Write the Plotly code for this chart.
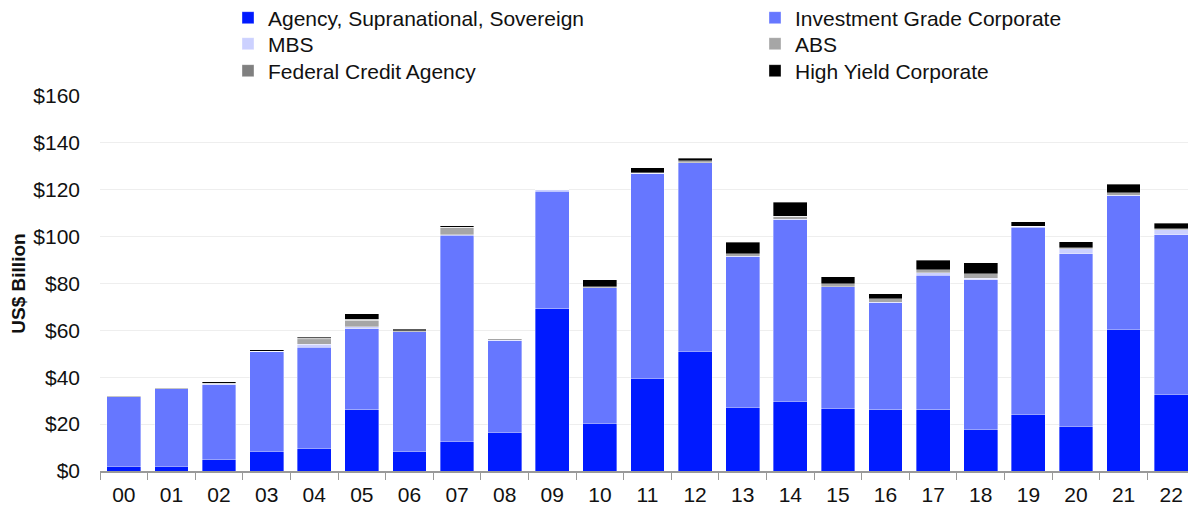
import plotly.graph_objects as go

# Données (US$ milliards)
years = ["00", "01", "02", "03", "04", "05", "06", "07", "08", "09", "10", "11",
         "12", "13", "14", "15", "16", "17", "18", "19", "20", "21", "22"]

agency = [2.1, 2.1, 5.0, 8.5, 9.8, 26.1, 8.5, 12.8, 16.6, 69.2, 20.4, 39.5,
          51.0, 27.3, 29.8, 26.8, 26.1, 26.1, 17.9, 24.3, 19.2, 60.5, 32.8]
ig_corp = [29.6, 33.0, 31.8, 42.5, 43.0, 34.7, 50.9, 87.7, 39.2, 50.2, 57.7, 87.3,
           80.6, 64.3, 77.7, 51.9, 46.0, 57.4, 63.7, 79.8, 73.6, 57.1, 68.1]
mbs = [0.0, 0.0, 0.4, 0.2, 1.2, 0.8, 0.0, 0.3, 0.0, 0.6, 0.0, 0.2,
       0.0, 0.0, 0.0, 0.0, 0.0, 1.1, 0.6, 0.3, 2.1, 0.0, 2.0]
abs_ = [0.5, 0.5, 0.0, 0.0, 2.0, 2.7, 0.5, 3.1, 0.6, 0.0, 0.6, 0.2,
        0.7, 1.2, 1.3, 1.2, 1.5, 1.3, 1.9, 0.0, 0.4, 1.2, 0.5]
fed_credit = [0.0, 0.0, 0.3, 0.0, 0.6, 0.4, 0.0, 0.0, 0.0, 0.0, 0.0, 0.0,
              0.0, 0.0, 0.0, 0.0, 0.0, 0.0, 0.0, 0.0, 0.0, 0.0, 0.0]
high_yield = [0.0, 0.0, 0.5, 0.6, 0.5, 2.5, 0.6, 0.7, 0.0, 0.0, 2.9, 2.1,
              1.2, 4.7, 5.9, 3.0, 2.1, 4.0, 4.7, 1.9, 2.6, 3.6, 2.4]

series_names = ["Agency, Supranational, Sovereign", "Investment Grade Corporate",
                "MBS", "ABS", "Federal Credit Agency", "High Yield Corporate"]
series_vals = [agency, ig_corp, mbs, abs_, fed_credit, high_yield]
colors = ["#001AFF", "#6677FF", "#CCD1FF", "#A6A6A6", "#808080", "#000000"]

# la page ajoute une marge de 8px autour du graphique
W, H = 1188, 501
ML, MR, MT, MB = 92, 1, 88, 38

fig = go.Figure()
leg_ids = ["legend", "legend2", "legend3", "legend4", "legend5", "legend6"]
for name, vals, col, leg in zip(series_names, series_vals, colors, leg_ids):
    fig.add_trace(go.Bar(
        x=years, y=vals, name=name, legend=leg, showlegend=True,
        marker=dict(color=col, line=dict(color="rgba(255,255,255,0.6)", width=0.6)),
    ))

font_main = "Liberation Sans, Arial, sans-serif"
# une légende par entrée: 2 colonnes x 3 lignes (centre de chaque ligne, en px)
col_x = [220, 747]
row_y = [10, 36, 63]
pw = W - ML - MR
legends = {}
for i, leg in enumerate(leg_ids):
    legends[leg] = dict(
        orientation="v", yref="container",
        x=(col_x[i % 2] - ML) / pw, y=1 - row_y[i // 2] / H,
        xanchor="left", yanchor="middle",
        font=dict(family=font_main, size=21, color="#111111"),
        bgcolor="rgba(0,0,0,0)", itemwidth=30,
    )

fig.update_layout(
    barmode="stack",
    bargap=0.29,
    showlegend=True,
    width=W, height=H,
    margin=dict(l=ML, r=MR, t=MT, b=MB, autoexpand=False),
    plot_bgcolor="white", paper_bgcolor="white",
    font=dict(family=font_main, size=20, color="#111111"),
    xaxis=dict(
        tickson="boundaries", ticks="outside", ticklen=7, tickcolor="#999999",
        showline=True, linecolor="#999999", linewidth=1.5,
        tickfont=dict(size=21), showgrid=False, ticklabelstandoff=4,
    ),
    yaxis=dict(
        range=[0, 160], tick0=0, dtick=20, tickprefix="$",
        gridcolor="#EEEEEE", gridwidth=1, zeroline=False,
        tickfont=dict(size=21), ticks="", ticklabelstandoff=19,
        title=dict(text="<b>US$ Billion</b>", font=dict(size=19), standoff=9),
    ),
    **legends,
)

fig.write_html("out.html")
